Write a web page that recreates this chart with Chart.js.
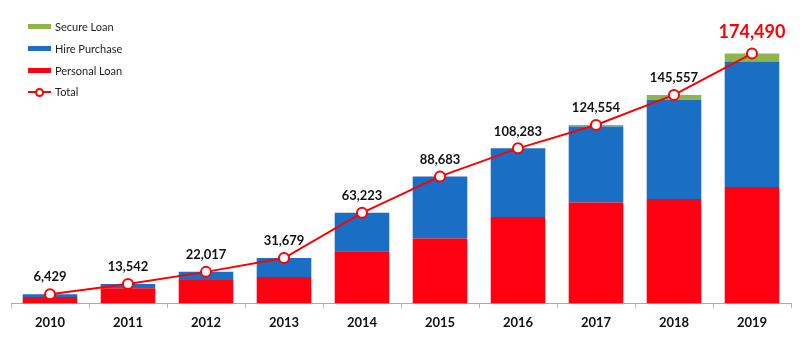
<!DOCTYPE html>
<html>
<head>
<meta charset="utf-8">
<script src="https://cdn.jsdelivr.net/npm/chart.js@4.4.1/dist/chart.umd.min.js"></script>
<style>
  html, body { margin: 0; padding: 0; background: #fff; }
  #wrap { position: relative; width: 800px; height: 338px; }
  #legend { position: absolute; left: 28px; top: 16px; font-family: Lato, sans-serif; font-size: 11px; color: #222; }
  #legend div { height: 21.7px; display: flex; align-items: center; }
  #legend .sw { width: 23px; height: 5px; margin-right: 4px; }
  #legend .ln { width: 23px; height: 10px; margin-right: 4px; position: relative; }
  #legend .ln:before { content: ''; position: absolute; left: 0; right: 0; top: 4px; height: 2px; background: #ff0000; }
  #legend .ln:after { content: ''; position: absolute; left: 7px; top: 1px; width: 5px; height: 5px; border: 2px solid #ff0000; border-radius: 50%; background: #fff; }
</style>
</head>
<body>
<div id="wrap">
  <canvas id="loanChart" width="800" height="338"></canvas>
  <div id="legend">
    <div><span class="sw" style="background:#8fb54a"></span>Secure Loan</div>
    <div><span class="sw" style="background:#1a6fc4"></span>Hire Purchase</div>
    <div><span class="sw" style="background:#fe0010"></span>Personal Loan</div>
    <div><span class="ln"></span>Total</div>
  </div>
</div>
<script>
// Dữ liệu
const years = ['2010', '2011', '2012', '2013', '2014', '2015', '2016', '2017', '2018', '2019'];
const personalLoan = [4500, 10500, 16400, 18400, 36400, 45300, 60300, 70500, 72900, 81300];
const hirePurchase = [1929, 3042, 5617, 13279, 26823, 43383, 47983, 53054, 69357, 87590];
const secureLoan = [0, 0, 0, 0, 0, 0, 0, 1000, 3300, 5600];
const totals = [6429, 13542, 22017, 31679, 63223, 88683, 108283, 124554, 145557, 174490];

function number_format(n) {
    return String(n).replace(/\B(?=(\d{3})+(?!\d))/g, ',');
}

// Nhãn tổng trên các điểm
const totalLabels = {
    id: 'totalLabels',
    afterDatasetsDraw(chart) {
        const ctx = chart.ctx;
        const meta = chart.getDatasetMeta(3);
        ctx.save();
        ctx.textAlign = 'center';
        ctx.textBaseline = 'middle';
        meta.data.forEach((pt, i) => {
            const last = i === totals.length - 1;
            ctx.font = last ? 'bold 18px Lato, sans-serif' : 'bold 13px Lato, sans-serif';
            ctx.fillStyle = last ? '#ff0000' : '#111';
            ctx.fillText(number_format(totals[i]), pt.x, pt.y - (last ? 21 : 17));
        });
        ctx.restore();
    }
};

new Chart(document.getElementById('loanChart'), {
    type: 'bar',
    data: {
        labels: years,
        datasets: [
            { label: 'Personal Loan', data: personalLoan, backgroundColor: '#fe0010', stack: 'loan', order: 1 },
            { label: 'Hire Purchase', data: hirePurchase, backgroundColor: '#1a6fc4', stack: 'loan', order: 1 },
            { label: 'Secure Loan', data: secureLoan, backgroundColor: '#8fb54a', stack: 'loan', order: 1 },
            {
                type: 'line',
                label: 'Total',
                data: totals,
                stack: 'total',
                order: 0,
                borderColor: '#ff0000',
                borderWidth: 2,
                pointRadius: 5,
                pointBorderWidth: 2,
                pointBackgroundColor: '#fff',
                pointBorderColor: '#ff0000',
                tension: 0
            }
        ]
    },
    options: {
        responsive: false,
        animation: false,
        layout: { padding: { left: 11, right: 9, top: 17, bottom: 0 } },
        datasets: { bar: { categoryPercentage: 1, barPercentage: 0.7 } },
        plugins: {
            legend: { display: false },
            tooltip: { enabled: false }
        },
        scales: {
            x: {
                stacked: true,
                grid: { offset: true, drawOnChartArea: false, tickLength: 5, color: '#bbb' },
                border: { color: '#aaa' },
                ticks: { padding: 7, color: '#111', font: { family: 'Lato, sans-serif', size: 13, weight: 'bold' } }
            },
            y: {
                stacked: true,
                display: false,
                min: 0,
                max: 200000
            }
        }
    },
    plugins: [totalLabels]
});
</script>
</body>
</html>
